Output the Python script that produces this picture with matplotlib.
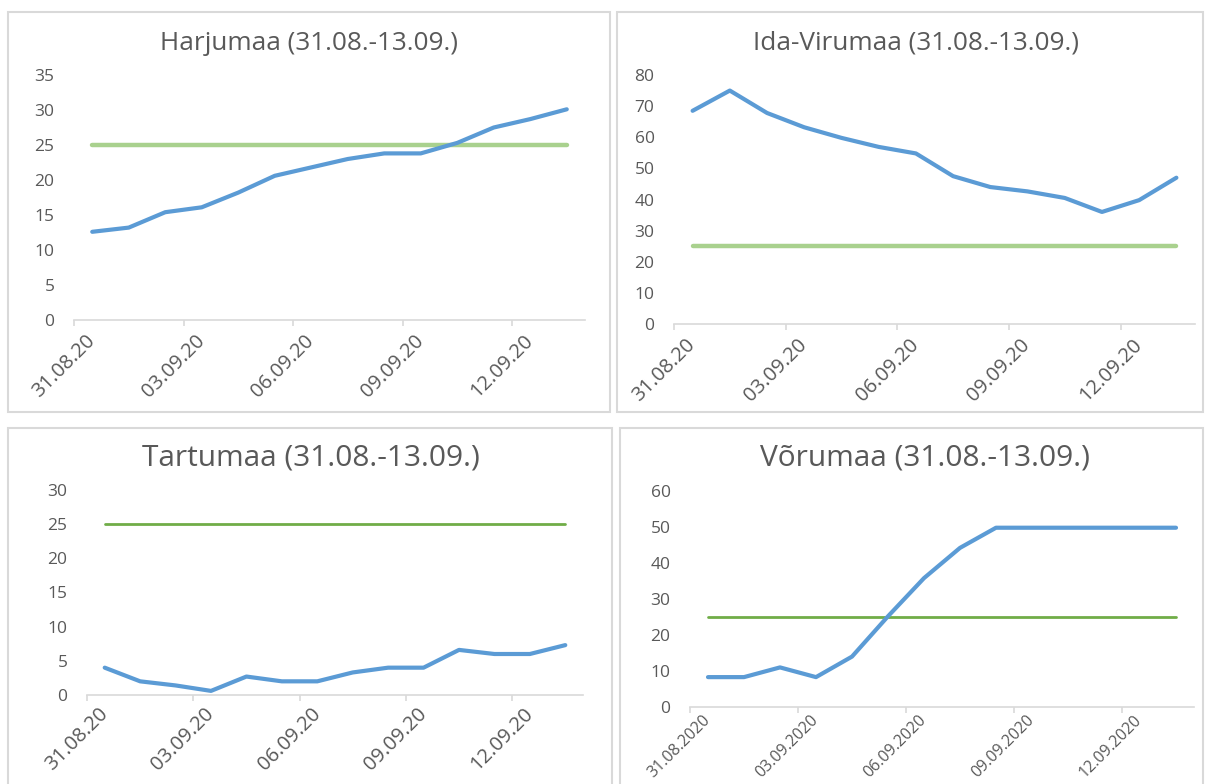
import matplotlib
matplotlib.use('Agg')
import matplotlib.pyplot as plt
from matplotlib.patches import Rectangle
from matplotlib.transforms import ScaledTranslation

# Päevad 31.08. - 13.09.
days = list(range(14))
tick_pos = [-0.5, 2.5, 5.5, 8.5, 11.5]
labels_short = ['31.08.20', '03.09.20', '06.09.20', '09.09.20', '12.09.20']
labels_long = ['31.08.2020', '03.09.2020', '06.09.2020', '09.09.2020', '12.09.2020']

harju = [12.6, 13.2, 15.4, 16.1, 18.2, 20.6, 21.8, 23.0, 23.8, 23.8, 25.3, 27.5, 28.7, 30.1]
idaviru = [68.5, 75.0, 67.8, 63.2, 59.8, 56.9, 54.8, 47.5, 44.0, 42.6, 40.5, 36.0, 39.8, 47.0]
tartu = [4.0, 2.0, 1.4, 0.6, 2.7, 2.0, 2.0, 3.3, 4.0, 4.0, 6.6, 6.0, 6.0, 7.3]
voru = [8.3, 8.3, 11.0, 8.3, 14.0, 25.2, 35.8, 44.2, 49.8, 49.8, 49.8, 49.8, 49.8, 49.8]
limit = 25

W, H = 1205, 784
fig = plt.figure(figsize=(W / 100, H / 100), dpi=100)
plt.rcParams['font.family'] = ['Open Sans', 'DejaVu Sans']

blue = '#5B9BD5'
gray_txt = '#595959'
border = '#D9D9D9'


def px_rect(x0, y0, x1, y1):
    # pikslid (ülevalt) -> figuuri murdosa
    return [x0 / W, 1 - y1 / H, (x1 - x0) / W, (y1 - y0) / H]


# paneelide raamid
for (x0, y0, x1, y1) in [(8, 12, 610, 412), (617, 12, 1203, 412),
                         (8, 428, 612, 790), (620, 428, 1203, 790)]:
    fig.patches.append(Rectangle((x0 / W, 1 - y1 / H), (x1 - x0) / W, (y1 - y0) / H,
                                 transform=fig.transFigure, fill=False,
                                 edgecolor=border, linewidth=1.5))

panels = [
    # andmed, ylim, samm, telje ala, pealkiri, pealkirja keskkoht, värv, joone laius, sildid, sildi suurus, pealkirja suurus, nihe x/y (px)
    (harju, 35, 5, (74, 75, 585, 320), 'Harjumaa (31.08.-13.09.)', (309, 43), '#A9D18E', 3.2, labels_short, 14.5, 18.8, (11, 11)),
    (idaviru, 80, 10, (674, 75, 1195, 324), 'Ida-Virumaa (31.08.-13.09.)', (916, 43), '#A9D18E', 3.2, labels_short, 14.5, 18.8, (11, 11)),
    (tartu, 30, 5, (87, 490, 583, 695), 'Tartumaa (31.08.-13.09.)', (311, 458), '#70AD47', 2.0, labels_short, 14.5, 21.5, (11, 9)),
    (voru, 60, 10, (690, 491, 1194, 707), 'Võrumaa (31.08.-13.09.)', (925, 458), '#70AD47', 2.0, labels_long, 11.5, 21.5, (12, 5)),
]

for data, ymax, step, (x0, y0, x1, y1), title, (tx, ty), gcol, glw, xlabels, xfs, tfs, (dx, dy) in panels:
    ax = fig.add_axes(px_rect(x0, y0, x1, y1))
    ax.plot(days, [limit] * len(days), color=gcol, linewidth=glw, solid_capstyle='round')
    ax.plot(days, data, color=blue, linewidth=3.0, solid_capstyle='round', solid_joinstyle='round')
    ax.set_xlim(-0.5, 13.5)
    ax.set_ylim(0, ymax)
    ax.set_yticks(range(0, ymax + 1, step))
    ax.set_xticks(tick_pos)
    ax.set_xticklabels([])
    # kuupäevade sildid, kaldu 45°, lõpp veidi tickist paremal
    off = ScaledTranslation(dx / 100, -dy / 100, fig.dpi_scale_trans)
    for pos, lab in zip(tick_pos, xlabels):
        ax.text(pos, 0, lab, transform=ax.get_xaxis_transform() + off,
                rotation=45, ha='right', va='top', rotation_mode='anchor',
                fontsize=xfs, color=gray_txt)
    for lab in ax.get_yticklabels():
        lab.set_fontsize(12.5)
        lab.set_color(gray_txt)
    for s in ['top', 'right', 'left']:
        ax.spines[s].set_visible(False)
    ax.spines['bottom'].set_color(border)
    ax.spines['bottom'].set_linewidth(1.2)
    ax.tick_params(axis='x', direction='out', length=4, width=1.2, color=border)
    ax.tick_params(axis='y', length=0, pad=14)
    fig.text(tx / W, 1 - ty / H, title, ha='center', va='center', fontsize=tfs, color=gray_txt)

fig.savefig('out.png', dpi=100)
